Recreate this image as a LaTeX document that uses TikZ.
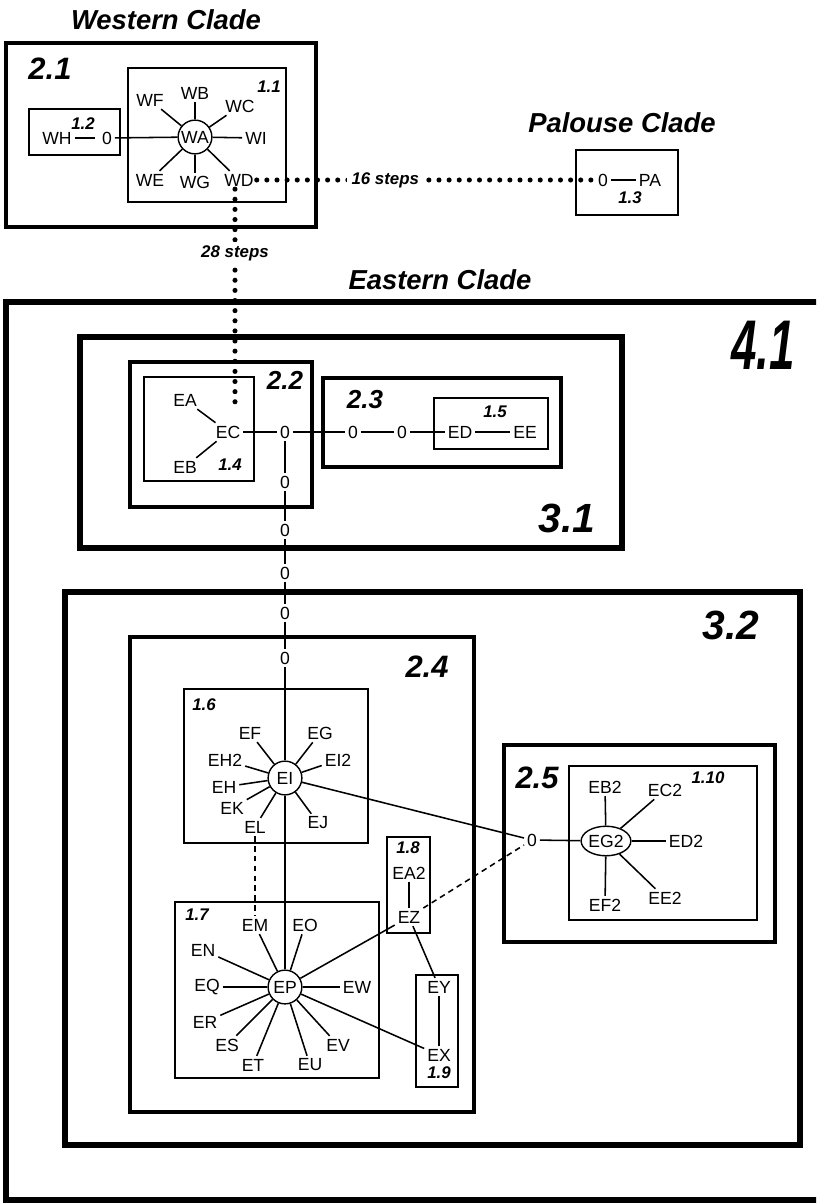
\documentclass[tikz,border=0pt]{standalone}
\usepackage{fontspec}
\setmainfont{Liberation Sans}
\usetikzlibrary{shapes.geometric}

\begin{document}
\begin{tikzpicture}[
    x=0.025cm, y=-0.025cm,
    taxon/.style={inner sep=2pt, font=\fontsize{12.5}{13}\selectfont},
    hub/.style={taxon, draw, circle, line width=1pt, minimum size=24pt, inner sep=0pt},
    hubegg/.style={taxon, draw, ellipse, line width=1pt, minimum width=33pt, minimum height=21pt, inner sep=0pt},
    spoke/.style={line width=1.1pt},
    dotline/.style={line width=3.6pt, line cap=round, dash pattern=on 0pt off 7.2pt},
    dashline/.style={line width=1.1pt, dash pattern=on 4pt off 3pt},
    clade1/.style={draw, line width=1.2pt},
    clade2/.style={draw, line width=3.2pt},
    clade3/.style={draw, line width=4pt},
    clade4/.style={draw, line width=4.5pt},
    lab1/.style={inner sep=0pt, font=\fontsize{12}{12}\selectfont\bfseries\itshape},
    lab2/.style={inner sep=0pt, font=\fontsize{22}{22}\selectfont\bfseries\itshape},
    lab2s/.style={inner sep=0pt, font=\fontsize{18.5}{19}\selectfont\bfseries\itshape},
    lab3/.style={inner sep=0pt, font=\fontsize{29}{29}\selectfont\bfseries\itshape},
    title/.style={inner sep=0pt, font=\fontsize{19.5}{20}\selectfont\bfseries\itshape},
    steps/.style={fill=white, inner sep=3pt, font=\fontsize{12}{12}\selectfont\bfseries\itshape},
]
\useasboundingbox (0,0) rectangle (816,1203);
\clip (0,0) rectangle (816,1203);

% Western clade
\node[title] (wtitle) at (166,20) {Western Clade};
\draw[clade2] (6,43) rectangle (316,227);
\node[lab2] (l21) at (50,69) {2.1};
\draw[clade1] (128,68) rectangle (286,202);
\node[lab1] (l11) at (269,87) {1.1};
\node[hub]   (WA) at (195,137) {WA};
\node[taxon] (WB) at (195,93)  {WB};
\node[taxon] (WC) at (240,106) {WC};
\node[taxon] (WF) at (150,100) {WF};
\node[taxon] (WI) at (256,138) {WI};
\node[taxon] (WE) at (150,180) {WE};
\node[taxon] (WG) at (195,182) {WG};
\node[taxon] (WD) at (239,180) {WD};
\foreach \t in {WB,WC,WF,WI,WE,WG,WD}
    \draw[spoke] (WA) -- (\t);
\draw[clade1] (29,109) rectangle (120,155);
\node[lab1]  (l12) at (83,124) {1.2};
\node[taxon] (WH) at (57,138)  {WH};
\node[taxon] (W0) at (107,138) {0};
\draw[spoke, shorten >=3pt] (WH) -- (W0);
\draw[spoke] (W0) -- (WA);

% Palouse clade
\node[title] (ptitle) at (622,123) {Palouse Clade};
\draw[clade1] (576,150) rectangle (678,215);
\node[taxon] (P0) at (603,180) {0};
\node[taxon] (PA) at (650,180) {PA};
\node[lab1]  (l13) at (630,198) {1.3};
\draw[spoke] (P0) -- (PA);

% Long dotted links
\coordinate (drop) at (235,404);
\draw[dotline] (WD) -- node[steps, pos=0.38] {16 steps} (P0);
\draw[dotline] (WD.south -| drop) -- node[steps, pos=0.3] {28 steps} (drop);

% Eastern clade, outer boxes
\node[title] (etitle) at (440,280) {Eastern Clade};
\draw[clade4] (6,302) rectangle (840,1200);
\node[inner sep=0pt, font=\fontsize{50}{50}\selectfont\bfseries\itshape] (l41) at (763,345) {\scalebox{0.65}[1]{4.1}};
\draw[clade3] (80,337) rectangle (622,548);
\node[lab3] (l31) at (567,518) {3.1};

% 2.2 / 1.4
\draw[clade2] (130,362) rectangle (312,507);
\node[lab2s] (l22) at (285,380) {2.2};
\draw[clade1] (144,377) rectangle (254,481);
\node[lab1]  (l14) at (230,465) {1.4};
\node[taxon] (EA) at (185,400) {EA};
\node[taxon] (EC) at (228,432) {EC};
\node[taxon] (EB) at (185,467) {EB};
\draw[spoke] (EC) -- (EA);
\draw[spoke] (EC) -- (EB);

% 2.3 / 1.5
\draw[clade2] (323,378) rectangle (561,467);
\node[lab2s] (l23) at (365,400) {2.3};
\draw[clade1] (434,398) rectangle (548,449);
\node[lab1]  (l15) at (495,412) {1.5};
\node[taxon] (E0a) at (285,432) {0};
\node[taxon] (E0b) at (353,432) {0};
\node[taxon] (E0c) at (402,432) {0};
\node[taxon] (ED)  at (460,432) {ED};
\node[taxon] (EE)  at (525,432) {EE};
\draw[spoke] (EC) -- (E0a);
\draw[spoke] (E0a) -- (E0b);
\draw[spoke] (E0b) -- (E0c);
\draw[spoke] (E0c) -- (ED);
\draw[spoke] (ED) -- (EE);

% chain of missing steps down to 1.6
\node[taxon] (E0d) at (285,482) {0};
\node[taxon] (E0e) at (285,530) {0};
\node[taxon] (E0f) at (285,573) {0};
\node[taxon] (E0g) at (285,613) {0};
\node[taxon] (E0h) at (285,658) {0};
\draw[spoke] (E0a) -- (E0d) -- (E0e) -- (E0f) -- (E0g) -- (E0h);

% 3.2 / 2.4
\draw[clade3] (65,592) rectangle (800,1145);
\node[lab3] (l32) at (731,625) {3.2};
\draw[clade2] (130,637) rectangle (474,1112);
\node[lab2] (l24) at (427,667) {2.4};

% 1.6
\draw[clade1] (184,689) rectangle (368,843);
\node[lab1]  (l16) at (204,705) {1.6};
\node[hub]   (EI)  at (285,778) {EI};
\node[taxon] (EF)  at (250,733) {EF};
\node[taxon] (EG)  at (320,733) {EG};
\node[taxon] (EH2) at (225,760) {EH2};
\node[taxon] (EI2) at (338,760) {EI2};
\node[taxon] (EH)  at (224,787) {EH};
\node[taxon] (EK)  at (232,808) {EK};
\node[taxon] (EL)  at (255,827) {EL};
\node[taxon] (EJ)  at (318,823) {EJ};
\foreach \t in {EF,EG,EH2,EI2,EH,EK,EL,EJ}
    \draw[spoke] (EI) -- (\t);
\draw[spoke] (E0h) -- (EI);

% 2.5 / 1.10
\draw[clade2] (504,745) rectangle (775,942);
\node[lab2] (l25) at (537,778) {2.5};
\draw[clade1] (569,766) rectangle (757,920);
\node[lab1]   (l110) at (708,778) {1.10};
\node[taxon]  (G0)  at (532,840) {0};
\node[hubegg] (EG2) at (606,841) {EG2};
\node[taxon]  (EB2) at (605,787) {EB2};
\node[taxon]  (EC2) at (665,790) {EC2};
\node[taxon]  (ED2) at (686,841) {ED2};
\node[taxon]  (EE2) at (665,898) {EE2};
\node[taxon]  (EF2) at (605,905) {EF2};
\foreach \t in {EB2,EC2,ED2,EE2,EF2}
    \draw[spoke] (EG2) -- (\t);
\draw[spoke] (G0) -- (EG2);
\draw[spoke] (EI) -- (G0);

% 1.8
\draw[clade1] (387,837) rectangle (430,933);
\node[lab1]  (l18) at (408,848) {1.8};
\node[taxon] (EA2) at (409,873) {EA2};
\node[taxon] (EZ)  at (409,917) {EZ};
\draw[spoke] (EA2) -- (EZ);

% 1.7
\draw[clade1] (175,902) rectangle (379,1078);
\node[lab1]  (l17) at (197,915) {1.7};
\node[hub]   (EP) at (285,987)  {EP};
\node[taxon] (EM) at (255,925)  {EM};
\node[taxon] (EO) at (305,925)  {EO};
\node[taxon] (EN) at (203,950)  {EN};
\node[taxon] (EQ) at (207,987)  {EQ};
\node[taxon] (EW) at (357,987)  {EW};
\node[taxon] (ER) at (205,1022) {ER};
\node[taxon] (ES) at (227,1045) {ES};
\node[taxon] (ET) at (253,1065) {ET};
\node[taxon] (EU) at (310,1065) {EU};
\node[taxon] (EV) at (338,1045) {EV};
\foreach \t in {EM,EO,EN,EQ,EW,ER,ES,ET,EU,EV}
    \draw[spoke] (EP) -- (\t);
\draw[spoke] (EI) -- (EP);

% 1.9
\draw[clade1] (416,975) rectangle (458,1087);
\node[taxon] (EY) at (439,987)  {EY};
\node[taxon] (EX) at (439,1055) {EX};
\node[lab1]  (l19) at (439,1073) {1.9};
\draw[spoke] (EY) -- (EX);

% links between clusters
\draw[spoke] (EZ) -- (EP);
\draw[spoke] (EZ) -- (EY);
\draw[spoke] (EP) -- (EX);
\draw[dashline] (EL) -- (EM);
\draw[dashline] (EZ) -- (G0);

\end{tikzpicture}
\end{document}
